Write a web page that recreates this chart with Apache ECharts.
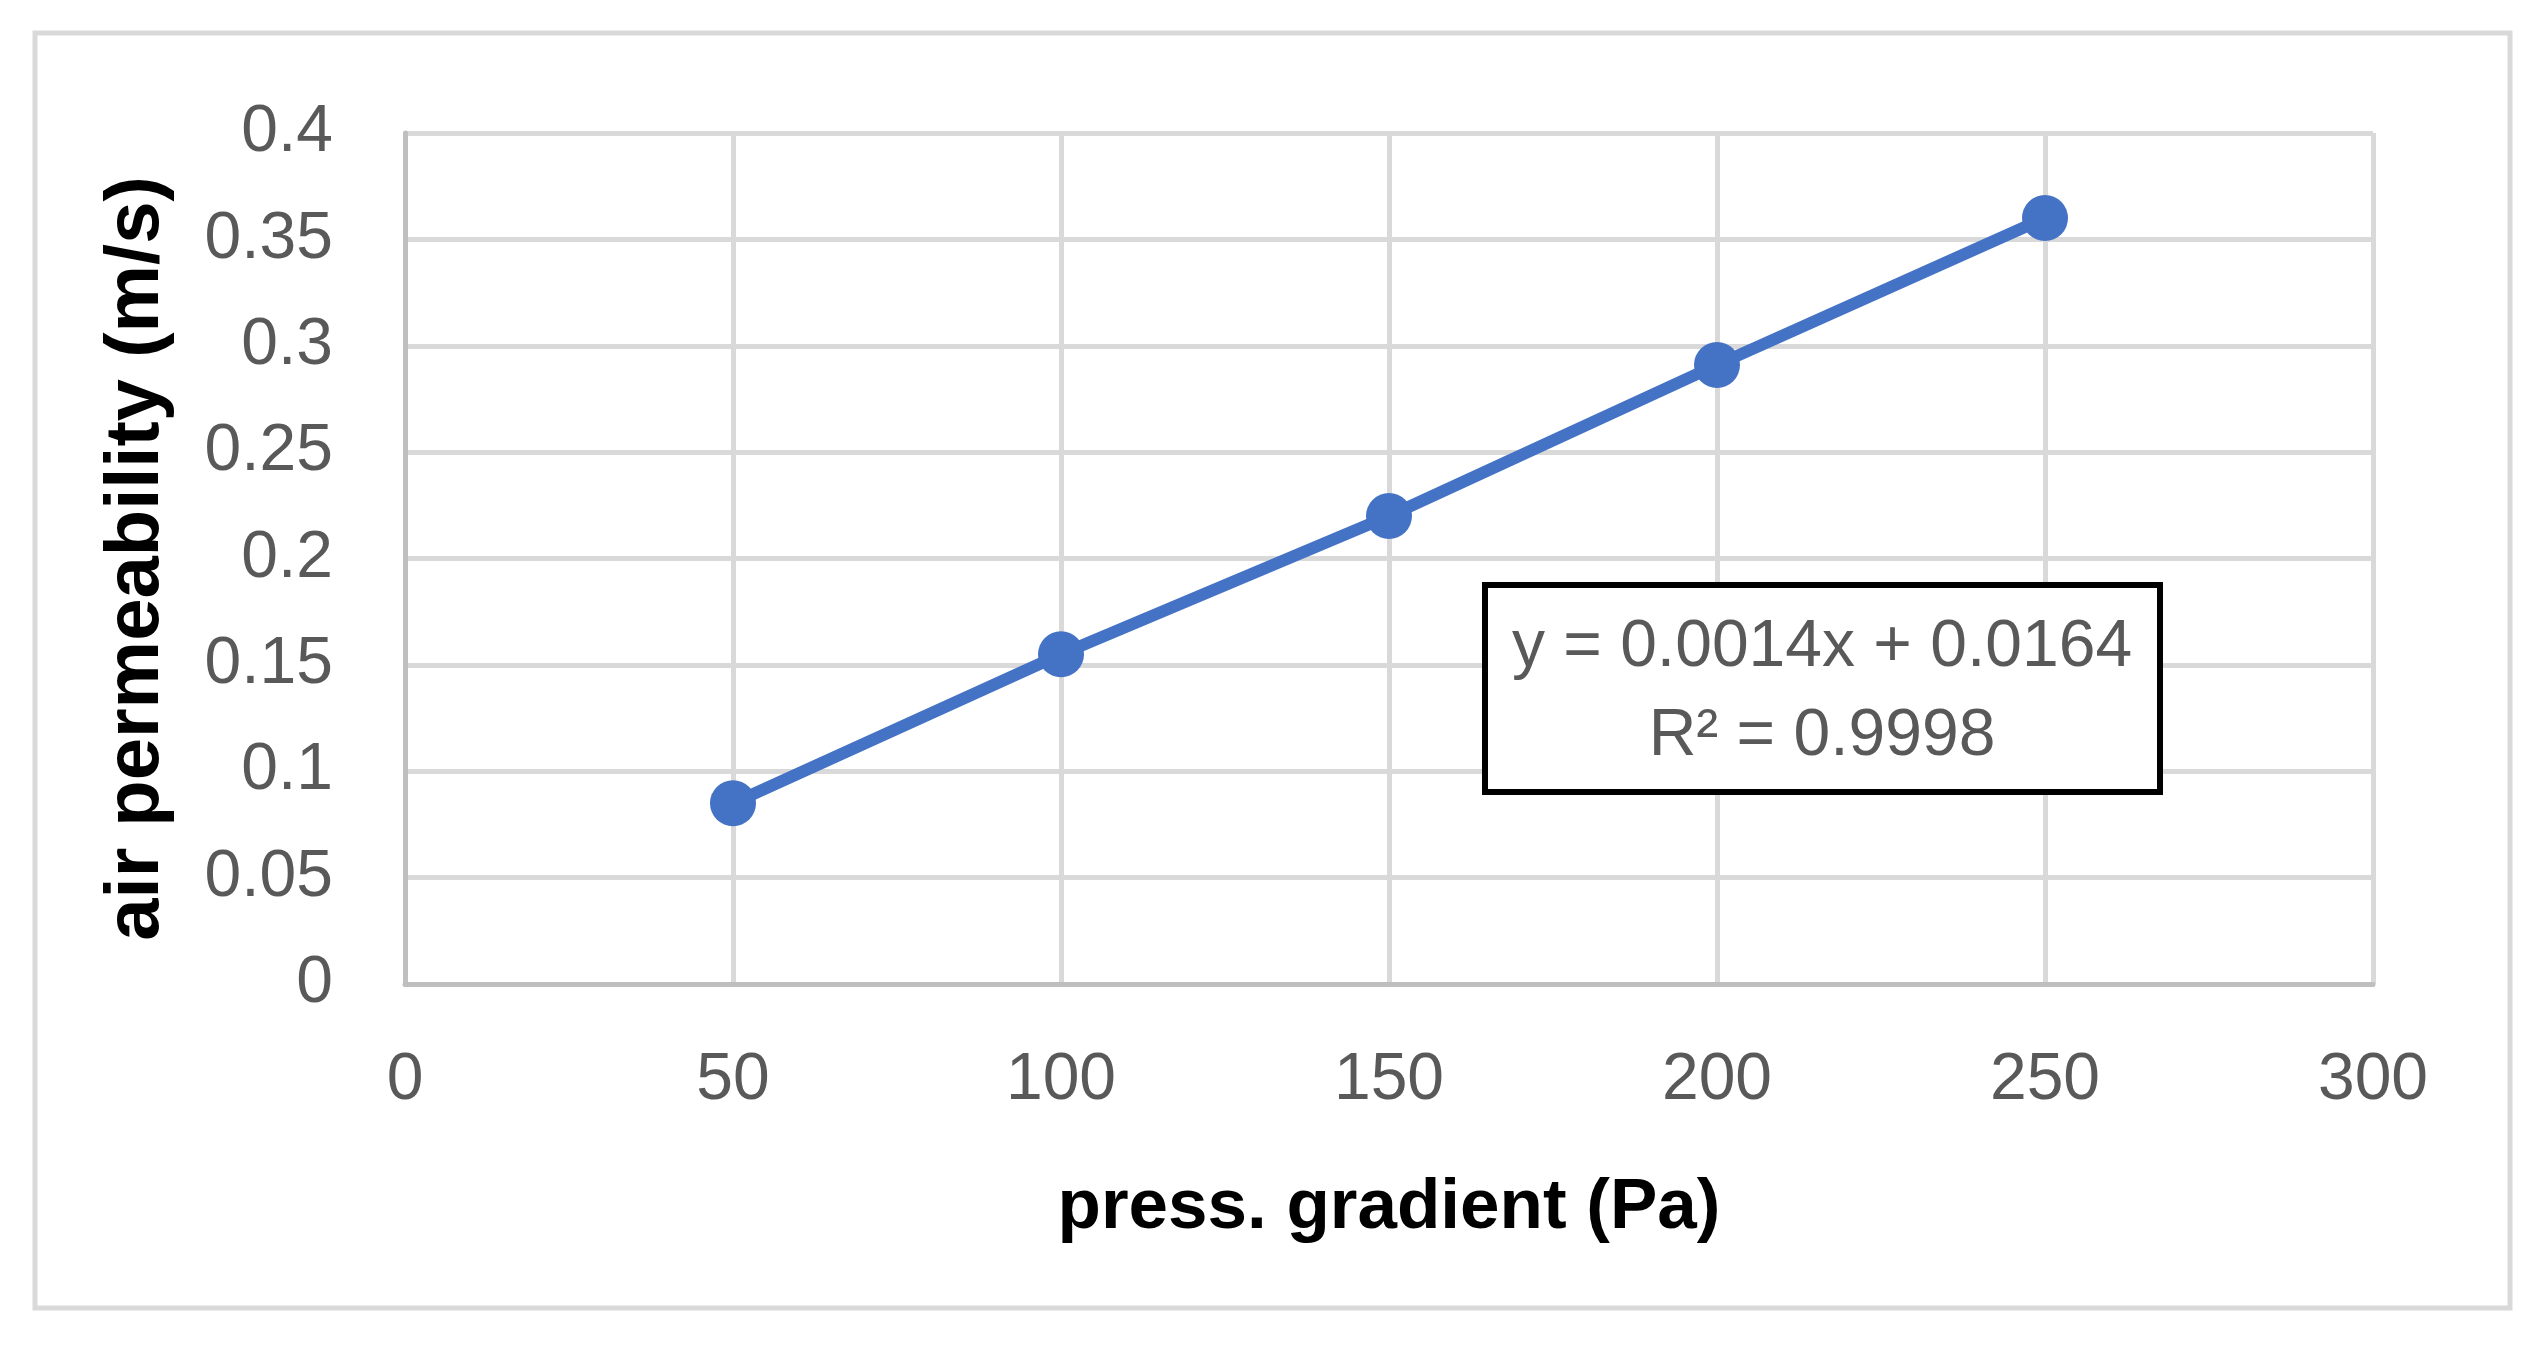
<!DOCTYPE html>
<html>
<head>
<meta charset="utf-8">
<script src="https://cdn.jsdelivr.net/npm/echarts@6/dist/echarts.min.js"></script>
<style>
html,body{margin:0;padding:0;background:#fff;}
#chart{width:2548px;height:1348px;}
</style>
</head>
<body>
<div id="chart"></div>
<script>
const pressGradient = [50, 100, 150, 200, 250];
const airPermeability = [0.085, 0.155, 0.22, 0.291, 0.36];
const xAxisTitle = 'press. gradient (Pa)';
const yAxisTitle = 'air permeability (m/s)';
const equationLines = ['y = 0.0014x + 0.0164', 'R² = 0.9998'];

const chart = echarts.init(document.getElementById('chart'), null, {renderer: 'canvas'});
const tickFont = 'Liberation Sans';
chart.setOption({
  backgroundColor: '#ffffff',
  animation: false,
  grid: {left: 405, top: 133, width: 1968, height: 851, containLabel: false},
  xAxis: {
    type: 'value', min: 0, max: 300, interval: 50,
    name: xAxisTitle, nameLocation: 'middle', nameGap: 189,
    nameTextStyle: {fontFamily: tickFont, fontWeight: 'bold', fontSize: 71, color: '#000000'},
    axisLine: {show: true, lineStyle: {color: '#bfbfbf', width: 5}},
    axisTick: {show: false},
    axisLabel: {margin: 64, fontFamily: tickFont, fontSize: 66, color: '#595959'},
    splitLine: {show: true, lineStyle: {color: '#d9d9d9', width: 5}}
  },
  yAxis: {
    type: 'value', min: 0, max: 0.4, interval: 0.05,
    name: yAxisTitle, nameLocation: 'middle', nameGap: 230,
    nameTextStyle: {fontFamily: tickFont, fontWeight: 'bold', fontSize: 76, color: '#000000'},
    axisLine: {show: true, lineStyle: {color: '#bfbfbf', width: 5}},
    axisTick: {show: false},
    axisLabel: {margin: 72, fontFamily: tickFont, fontSize: 66, color: '#595959',
      formatter: v => String(parseFloat(v.toFixed(2)))},
    splitLine: {show: true, lineStyle: {color: '#d9d9d9', width: 5}}
  },
  series: [{
    type: 'line',
    data: pressGradient.map((x, i) => [x, airPermeability[i]]),
    symbol: 'circle', symbolSize: 46,
    itemStyle: {color: '#4472c4'},
    lineStyle: {color: '#4472c4', width: 12}
  }],
  graphic: [
    {type: 'rect', shape: {x: 35, y: 33, width: 2475, height: 1275},
     style: {fill: null, stroke: '#d9d9d9', lineWidth: 5}, silent: true},
    {type: 'rect', shape: {x: 1485, y: 585, width: 675, height: 207},
     style: {fill: '#ffffff', stroke: '#000000', lineWidth: 6}, z: 100},
    {type: 'text', x: 1822, y: 648, z: 101,
     style: {text: equationLines[0], fontFamily: tickFont, fontSize: 66, fill: '#595959',
       align: 'center', verticalAlign: 'middle'}},
    {type: 'text', x: 1822, y: 737, z: 101,
     style: {text: equationLines[1], fontFamily: tickFont, fontSize: 66, fill: '#595959',
       align: 'center', verticalAlign: 'middle'}}
  ]
});
</script>
</body>
</html>
